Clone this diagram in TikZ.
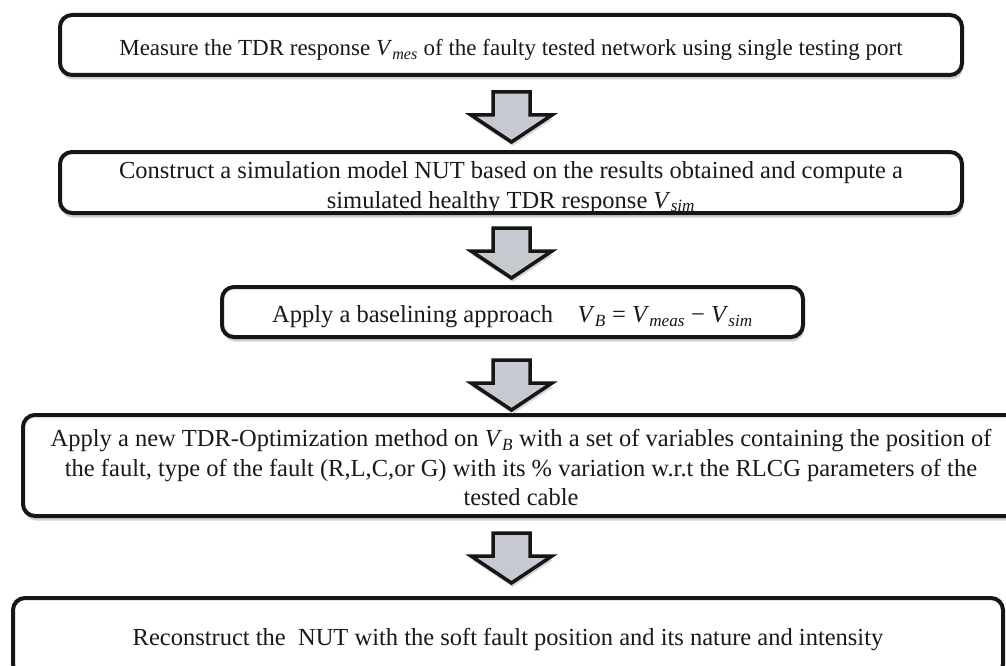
\documentclass[tikz,border=0pt]{standalone}
\usepackage{fontspec}
\setmainfont{Liberation Serif}
\usetikzlibrary{shadows}
\newcommand\Vs[1]{\textit{V}\textsubscript{\textit{#1}}}
\definecolor{arrowgray}{RGB}{198,201,208}
\definecolor{lineblack}{RGB}{22,22,22}
\tikzset{
  stepbox/.style={draw=lineblack, line width=4pt, rounded corners=12pt, fill=white,
    inner sep=0pt,
    drop shadow={shadow xshift=1pt, shadow yshift=-4.5pt, fill=black!40, opacity=0.45}},
  steptext/.style={inner sep=0pt, align=center, text=black!90,
    font=\fontsize{24.5}{29.5}\selectfont},
  smalltext/.style={steptext, font=\fontsize{23}{29.5}\selectfont},
  arrowstyle/.style={draw=lineblack, line width=3.5pt, line join=miter, fill=arrowgray,
    drop shadow={shadow xshift=1pt, shadow yshift=-4pt, fill=black!40, opacity=0.4}},
  blockarrow/.pic={
    \path[arrowstyle] (-18.5,0) -- (18.5,0) -- (18.5,-23) -- (40.5,-23) -- (0,-50)
      -- (-40.5,-23) -- (-18.5,-23) -- cycle;
  }
}
\begin{document}
\begin{tikzpicture}[x=1pt,y=1pt]
\useasboundingbox (0,0) rectangle (1006,-666);
\fill[white] (0,0) rectangle (1006,-666);
\clip (0,0) rectangle (1006,-666);

\node[stepbox, minimum width=902pt, minimum height=60pt] (b1) at (511,-45) {};
\node[stepbox, minimum width=902pt, minimum height=61pt] (b2) at (511,-182.5) {};
\node[stepbox, minimum width=581pt, minimum height=50pt] (b3) at (512.5,-312) {};
\node[stepbox, minimum width=996pt, minimum height=101pt] (b4) at (521,-465.5) {};
\node[stepbox, minimum width=990pt, minimum height=78pt] (b5) at (508,-637) {};

\node[smalltext] (t1) at ([yshift=-5pt]b1.center)
  {Measure the TDR response \Vs{mes} of the faulty tested network using single testing port};
\node[steptext] (t2) at ([yshift=-5pt]b2.center)
  {Construct a simulation model NUT based on the results obtained and compute a\\
   simulated healthy TDR response \Vs{sim}};
\node[steptext] (t3) at ([yshift=-5pt]b3.center)
  {Apply a baselining approach\quad \Vs{B} = \Vs{meas} \textminus{} \Vs{sim}};
\node[steptext] (t4) at ([yshift=-2pt]b4.center)
  {Apply a new TDR-Optimization method on \Vs{B} with a set of variables containing the position of\\
   the fault, type of the fault (R,L,C,or G) with its \% variation w.r.t the RLCG parameters of the\\
   tested cable};
\node[steptext] (t5) at ([yshift=-3pt]b5.center)
  {Reconstruct the~ NUT with the soft fault position and its nature and intensity};

\coordinate (a1) at (511.5,-92);
\coordinate (a2) at (511.5,-228);
\coordinate (a3) at (511.5,-360);
\coordinate (a4) at (511.5,-533);
\pic at (a1) {blockarrow};
\pic at (a2) {blockarrow};
\pic at (a3) {blockarrow};
\pic at (a4) {blockarrow};
\end{tikzpicture}
\end{document}
